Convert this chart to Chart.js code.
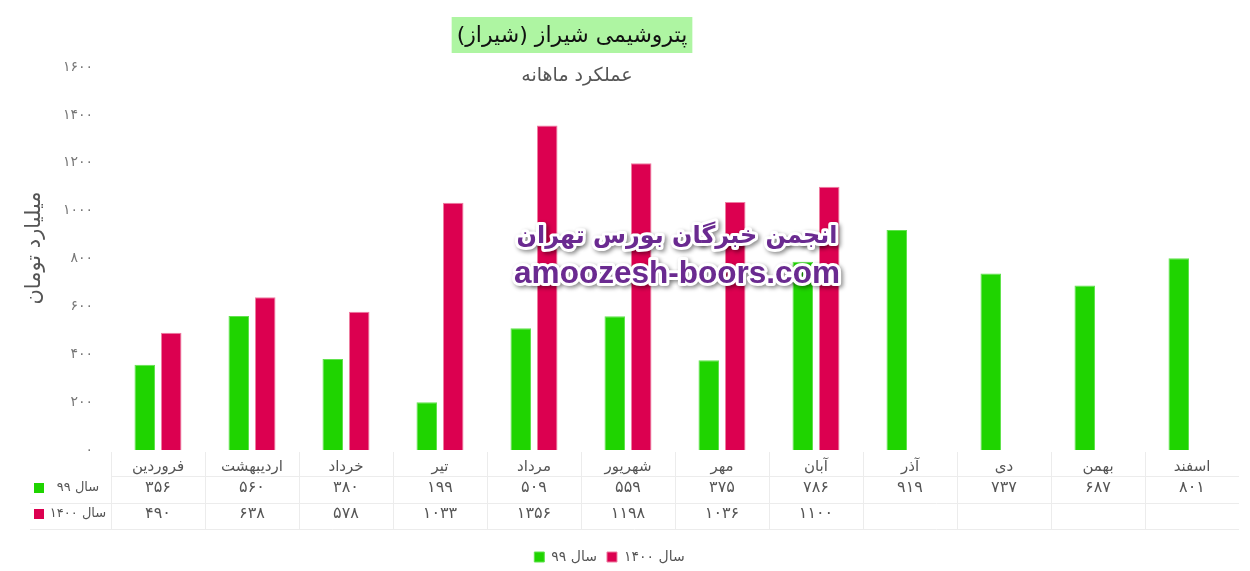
<!DOCTYPE html>
<html lang="fa">
<head>
<meta charset="utf-8">
<script src="https://cdn.jsdelivr.net/npm/chart.js@4.4.0/dist/chart.umd.min.js"></script>
<style>
  html, body { margin: 0; padding: 0; background: #fff; }
  #wrap { width: 1250px; height: 571px; }
</style>
</head>
<body>
<div id="wrap"><canvas id="c" width="1250" height="571"></canvas></div>
<script>
// Monthly figures (billion toman)
const months = ['فروردین', 'اردیبهشت', 'خرداد', 'تیر', 'مرداد', 'شهریور', 'مهر', 'آبان', 'آذر', 'دی', 'بهمن', 'اسفند'];
const year99 = [356, 560, 380, 199, 509, 559, 375, 786, 919, 737, 687, 801];
const year1400 = [490, 638, 578, 1033, 1356, 1198, 1036, 1100, null, null, null, null];
const seriesNames = ['سال ۹۹', 'سال ۱۴۰۰'];
const yMin = 0, yMax = 1600, yStep = 200;

const chartTitle = 'پتروشیمی شیراز (شیراز)';
const chartSubtitle = 'عملکرد ماهانه';
const yAxisTitle = 'میلیارد تومان';
const brandLines = ['انجمن خبرگان بورس تهران', 'amoozesh-boors.com'];

const GREEN = '#1fd400';
const RED = '#dc0050';
const FONT = "'DejaVu Sans', sans-serif";

// Western digits -> Persian digits
const toFa = v => String(v).replace(/\d/g, d => '۰۱۲۳۴۵۶۷۸۹'[d]);

// Title with highlighted background, subtitle and vertical axis title
const titlePlugin = {
  id: 'titleBlock',
  afterDraw(chart) {
    const ctx = chart.ctx;
    ctx.save();
    ctx.direction = 'rtl';
    ctx.textAlign = 'center';
    ctx.textBaseline = 'middle';
    ctx.font = '22px ' + FONT;
    const w = ctx.measureText(chartTitle).width;
    const cx = 572;
    ctx.fillStyle = '#aef5a2';
    ctx.fillRect(cx - w / 2 - 5, 17, w + 10, 36);
    ctx.fillStyle = '#111';
    ctx.fillText(chartTitle, cx, 36);
    ctx.font = '19px ' + FONT;
    ctx.fillStyle = '#555';
    ctx.fillText(chartSubtitle, 577, 76);

    ctx.translate(35, 248);
    ctx.rotate(-Math.PI / 2);
    ctx.font = '21px ' + FONT;
    ctx.fillStyle = '#555';
    ctx.fillText(yAxisTitle, 0, 0);
    ctx.restore();
  }
};

// Site name drawn over the plot
const brandPlugin = {
  id: 'brand',
  afterDatasetsDraw(chart) {
    const ctx = chart.ctx;
    const cx = 677;
    const drawLine = (text, font, baseSize, width, y, rtl) => {
      ctx.font = 'bold ' + baseSize + 'px ' + font;
      const size = baseSize * width / ctx.measureText(text).width;
      ctx.font = 'bold ' + size + 'px ' + font;
      ctx.direction = rtl ? 'rtl' : 'ltr';
      ctx.textAlign = 'center';
      ctx.textBaseline = 'alphabetic';
      ctx.save();
      ctx.shadowColor = 'rgba(0,0,0,0.45)';
      ctx.shadowBlur = 4;
      ctx.shadowOffsetX = 2;
      ctx.shadowOffsetY = 2;
      ctx.lineJoin = 'round';
      ctx.lineWidth = 6;
      ctx.strokeStyle = '#fff';
      ctx.strokeText(text, cx, y);
      ctx.restore();
      ctx.fillStyle = '#6a2a90';
      ctx.fillText(text, cx, y);
    };
    ctx.save();
    drawLine(brandLines[0], FONT, 28, 321, 243, true);
    drawLine(brandLines[1], "'Liberation Sans', Arial, sans-serif", 32, 326, 283, false);
    ctx.restore();
  }
};

// Data table under the category axis
const tablePlugin = {
  id: 'dataTable',
  afterDraw(chart) {
    const ctx = chart.ctx;
    const area = chart.chartArea;
    const xs = chart.scales.x;
    const n = months.length;
    const step = (area.right - area.left) / n;
    const b = area.bottom;
    const rows = [
      { name: seriesNames[0], color: GREEN, data: year99, y: b + 38 },
      { name: seriesNames[1], color: RED, data: year1400, y: b + 64 }
    ];
    ctx.save();
    ctx.strokeStyle = '#ececec';
    ctx.lineWidth = 1;
    // horizontal rules
    ctx.beginPath();
    ctx.moveTo(area.left, Math.round(b + 26) + 0.5);
    ctx.lineTo(area.right, Math.round(b + 26) + 0.5);
    ctx.moveTo(30, Math.round(b + 53) + 0.5);
    ctx.lineTo(area.right, Math.round(b + 53) + 0.5);
    ctx.moveTo(30, Math.round(b + 79) + 0.5);
    ctx.lineTo(area.right, Math.round(b + 79) + 0.5);
    // column separators
    for (let i = 0; i < n; i++) {
      const x = Math.round(xs.getPixelForValue(i) - step / 2) + 0.5;
      ctx.moveTo(x, b + 2);
      ctx.lineTo(x, b + 79);
    }
    ctx.stroke();

    ctx.textBaseline = 'middle';
    rows.forEach(r => {
      ctx.fillStyle = r.color;
      ctx.fillRect(34, r.y - 5, 10, 10);
      ctx.fillStyle = '#555';
      ctx.font = '13px ' + FONT;
      ctx.textAlign = 'center';
      ctx.direction = 'rtl';
      ctx.fillText(r.name, 78, r.y);
      ctx.direction = 'ltr';
      ctx.font = '16px ' + FONT;
      r.data.forEach((v, i) => {
        if (v === null) return;
        ctx.fillText(toFa(v), xs.getPixelForValue(i), r.y);
      });
    });
    ctx.restore();
  },
  afterLayout(chart) {
    // place the legend a little left and lower
    if (chart.legend) {
      chart.legend.left -= 10;
      chart.legend.right -= 10;
      chart.legend.top += 3;
      chart.legend.bottom += 3;
    }
  }
};

new Chart(document.getElementById('c'), {
  type: 'bar',
  data: {
    labels: months,
    datasets: [
      {
        label: seriesNames[0],
        data: year99,
        backgroundColor: GREEN,
        borderColor: '#62e24e',
        borderWidth: 1,
        categoryPercentage: 0.564,
        barPercentage: 0.774
      },
      {
        label: seriesNames[1],
        data: year1400,
        backgroundColor: RED,
        borderColor: '#ee7ea2',
        borderWidth: 1,
        categoryPercentage: 0.564,
        barPercentage: 0.774
      }
    ]
  },
  options: {
    responsive: false,
    animation: false,
    layout: { padding: { top: 67, right: 11, bottom: 0, left: 0 } },
    plugins: {
      legend: {
        position: 'bottom',
        labels: {
          boxWidth: 10,
          boxHeight: 10,
          padding: 10,
          color: '#555',
          font: { family: FONT, size: 14 }
        }
      },
      tooltip: { enabled: false }
    },
    scales: {
      x: {
        grid: { display: false, drawTicks: false },
        border: { display: false },
        ticks: {
          padding: 8,
          color: '#555',
          maxRotation: 0,
          font: { family: FONT, size: 15 }
        },
        afterFit(scale) { scale.height = 87; }
      },
      y: {
        min: yMin,
        max: yMax,
        grid: { display: false, drawTicks: false },
        border: { display: false },
        ticks: {
          stepSize: yStep,
          padding: 18,
          color: '#777',
          font: { family: FONT, size: 14 },
          callback: v => toFa(v)
        },
        title: { display: false },
        afterFit(scale) { scale.width = 111; }
      }
    }
  },
  plugins: [titlePlugin, brandPlugin, tablePlugin]
});
</script>
</body>
</html>
